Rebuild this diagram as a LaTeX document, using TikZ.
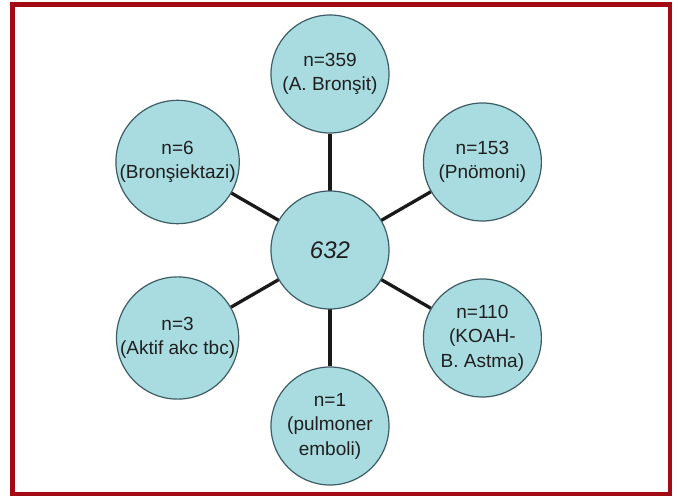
\documentclass[tikz,border=0pt]{standalone}
\usepackage{fontspec}
\setmainfont{Liberation Sans}
\definecolor{framered}{HTML}{A30A14}
\definecolor{bubble}{HTML}{A9DCE1}
\definecolor{bubbleline}{HTML}{3D5C64}
\begin{document}
\begin{tikzpicture}[x=1pt,y=-1pt,
  bub/.style={circle,draw=bubbleline,line width=1.2pt,fill=bubble,minimum size=118pt,inner sep=0pt,
    align=center,font=\fontsize{19}{24.5}\selectfont,text=black!88},
  link/.style={line width=3.3pt,black!90}]
\useasboundingbox (0,0) rectangle (678,497);
\fill[white] (0,0) rectangle (678,497);
\draw[framered,line width=4.6pt] (12.5,4.5) rectangle (670,494);
\coordinate (c) at (330,250);
\node[bub] (top) at (330,74) {n=359\\(A. Bronşit)};
\node[bub] (ur) at (482.4,162) {n=153\\(Pnömoni)};
\node[bub] (lr) at (482.4,338) {n=110\\(KOAH-\\B. Astma)};
\node[bub] (bot) at (330,426) {n=1\\(pulmoner\\emboli)};
\node[bub] (ll) at (177.6,338) {n=3\\(Aktif akc tbc)};
\node[bub] (ul) at (177.6,162) {n=6\\(Bronşiektazi)};
\foreach \n in {top,ur,lr,bot,ll,ul} \draw[link] (c) -- (\n);
\node[bub,font=\fontsize{24}{28}\selectfont\itshape] (mid) at (c) {632};
\end{tikzpicture}
\end{document}
